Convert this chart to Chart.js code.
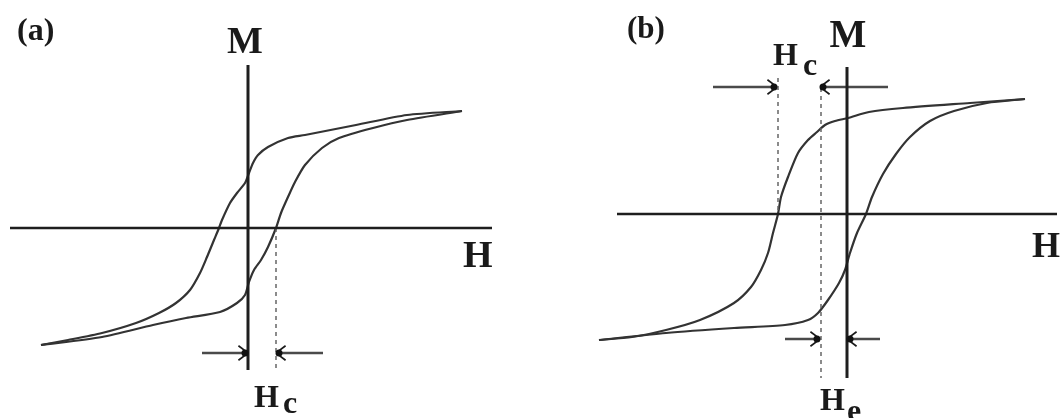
<!DOCTYPE html>
<html><head><meta charset="utf-8">
<script src="https://cdn.jsdelivr.net/npm/chart.js@4.4.1/dist/chart.umd.min.js"></script>
<style>
html,body{margin:0;padding:0;background:#fff;}
#wrap{position:relative;width:1061px;height:418px;overflow:hidden;background:#fff;}
canvas{position:absolute;top:0;}
#ca{left:0;} #cb{left:531px;}
</style></head><body>
<div id="wrap"><canvas id="ca" width="530" height="418"></canvas><canvas id="cb" width="530" height="418"></canvas></div>
<script>
// ---------- Panel (a): symmetric loop ----------
const aUpperH = [214,159,108,57,40,20,10,5,1,-3,-11,-18,-26,-29,-34,-41,-48,-58,-72,-89,-112,-146,-180,-207];
const aUpperM = [117,113,103,93,90,81,73,65,55,45,35,25,8,0,-12,-29,-45,-62,-75,-85,-95,-105,-112,-117];
const aLowerH = [-207,-146,-95,-62,-28,-11,-3,1,6,13,20,28,33,40,47,57,74,91,125,159,214];
const aLowerM = [-117,-109,-97,-90,-84,-75,-67,-54,-42,-32,-19,0,15,31,46,63,80,90,100,108,117];
const aAxisH = [-238, 244];
const aAxisM = [163, -142];
const aHc = 28;              // coercive field marker
const aArrowM = -125;        // level of the Hc arrows
const aArrowLeft = [-46, 0];
const aArrowRight = [75, 28];
const aDashM = [0, -140];

// ---------- Panel (b): exchange-biased loop ----------
const bUpperH = [178,123,56,22,1,-12,-22,-30,-39,-49,-59,-66,-69,-74,-79,-86,-96,-113,-147,-181,-215,-248];
const bUpperM = [115,111,106,102,96,93,89,82,74,61,37,17,0,-19,-39,-56,-73,-89,-106,-116,-123,-126];
const bLowerH = [-248,-181,-113,-62,-39,-29,-19,-8,-2,3,10,19,25,36,49,63,83,107,140,178];
const bLowerM = [-126,-119,-114,-111,-106,-99,-86,-69,-56,-39,-19,0,17,40,60,77,93,103,111,115];
const bAxisH = [-230, 210];
const bAxisM = [147, -164];
const bHcLeft = -69;
const bHe = -26;
const bTopArrowM = 127;
const bTopArrowLeft = [-134, -70];
const bTopArrowRight = [41, -27];
const bBotArrowM = -125;
const bBotArrowLeft = [-62, -27];
const bBotArrowRight = [33, 0];
const bDashLeftM = [136, 0];
const bDashHeM = [126, -164];

// ---------- helpers ----------
const zip = (hs, ms) => hs.map((h, i) => ({x: h, y: ms[i]}));
const curve = (hs, ms) => ({data: zip(hs, ms), borderColor: '#333', borderWidth: 2.2, tension: 0.25, pointRadius: 0, showLine: true});
const line = (pts, color, w, dash) => ({data: pts, borderColor: color, borderWidth: w, borderDash: dash || [], pointRadius: 0, showLine: true, tension: 0});
const arrow = (hs, m) => Object.assign(line([{x: hs[0], y: m}, {x: hs[1], y: m}], '#4a4a4a', 2.5), {arrow: true});

function annotPlugin(labels) {
  return {
    id: 'annot',
    afterDatasetsDraw(chart) {
      const {ctx} = chart; const sx = chart.scales.x, sy = chart.scales.y;
      ctx.save();
      chart.data.datasets.forEach(ds => {
        if (!ds.arrow) return;
        const n = ds.data.length, p1 = ds.data[n - 2], p2 = ds.data[n - 1];
        const x1 = sx.getPixelForValue(p1.x), y1 = sy.getPixelForValue(p1.y);
        const x2 = sx.getPixelForValue(p2.x), y2 = sy.getPixelForValue(p2.y);
        const a = Math.atan2(y2 - y1, x2 - x1);
        ctx.strokeStyle = '#1a1a1a'; ctx.lineWidth = 1.7; ctx.setLineDash([]);
        [-1, 1].forEach(s => {
          const c = Math.cos(a + s * 0.65), sn = Math.sin(a + s * 0.65);
          ctx.beginPath(); ctx.moveTo(x2 - 1 * c, y2 - 1 * sn);
          ctx.lineTo(x2 - 12 * c, y2 - 12 * sn);
          ctx.stroke();
        });
        ctx.fillStyle = '#111';
        ctx.beginPath(); ctx.arc(x2 - 3 * Math.cos(a), y2 - 3 * Math.sin(a), 3.5, 0, Math.PI * 2); ctx.fill();
      });
      labels.forEach(l => {
        ctx.font = 'bold ' + l.size + 'px "Liberation Serif", "DejaVu Serif", serif';
        ctx.fillStyle = '#1a1a1a'; ctx.textAlign = l.align || 'left'; ctx.textBaseline = 'alphabetic';
        ctx.fillText(l.text, sx.getPixelForValue(l.h), sy.getPixelForValue(l.m));
      });
      ctx.restore();
    }
  };
}

function makeChart(id, datasets, xr, yr, labels) {
  return new Chart(document.getElementById(id), {
    type: 'scatter',
    data: {datasets},
    options: {
      responsive: false, animation: false, devicePixelRatio: 1,
      layout: {padding: 0},
      plugins: {legend: {display: false}, tooltip: {enabled: false}},
      scales: {
        x: {type: 'linear', min: xr[0], max: xr[1], display: false},
        y: {type: 'linear', min: yr[0], max: yr[1], display: false}
      }
    },
    plugins: [annotPlugin(labels)]
  });
}

// Panel (a)
makeChart('ca', [
  line([{x: aAxisH[0], y: 0}, {x: aAxisH[1], y: 0}], '#1e1e1e', 2.5),
  line([{x: 0, y: aAxisM[0]}, {x: 0, y: aAxisM[1]}], '#1e1e1e', 3),
  line([{x: aHc, y: aDashM[0]}, {x: aHc, y: aDashM[1]}], '#666', 1.5, [4, 4]),
  curve(aUpperH, aUpperM),
  curve(aLowerH, aLowerM),
  arrow(aArrowLeft, aArrowM),
  arrow(aArrowRight, aArrowM)
], [-248, 282], [-190, 228], [
  {text: '(a)', h: -231, m: 188, size: 32},
  {text: 'M', h: -3, m: 175, size: 38, align: 'center'},
  {text: 'H', h: 215, m: -39, size: 38},
  {text: 'H', h: 6, m: -179, size: 32},
  {text: 'c', h: 35, m: -185, size: 32}
]);

// Panel (b)
makeChart('cb', [
  line([{x: bAxisH[0], y: 0}, {x: bAxisH[1], y: 0}], '#1e1e1e', 2.5),
  line([{x: 0, y: bAxisM[0]}, {x: 0, y: bAxisM[1]}], '#1e1e1e', 3),
  line([{x: bHcLeft, y: bDashLeftM[0]}, {x: bHcLeft, y: bDashLeftM[1]}], '#666', 1.5, [4, 4]),
  line([{x: bHe, y: bDashHeM[0]}, {x: bHe, y: bDashHeM[1]}], '#666', 1.5, [4, 4]),
  curve(bUpperH, bUpperM),
  curve(bLowerH, bLowerM),
  arrow(bTopArrowLeft, bTopArrowM),
  arrow(bTopArrowRight, bTopArrowM),
  arrow(bBotArrowLeft, bBotArrowM),
  arrow(bBotArrowRight, bBotArrowM)
], [-316, 214], [-204, 214], [
  {text: '(b)', h: -220, m: 176, size: 31},
  {text: 'M', h: 1, m: 167, size: 39, align: 'center'},
  {text: 'H', h: -74, m: 149, size: 32},
  {text: 'c', h: -44, m: 139, size: 32},
  {text: 'H', h: 185, m: -43, size: 36},
  {text: 'H', h: -27, m: -196, size: 32},
  {text: 'e', h: 0, m: -207, size: 32}
]);
</script>
</body></html>
